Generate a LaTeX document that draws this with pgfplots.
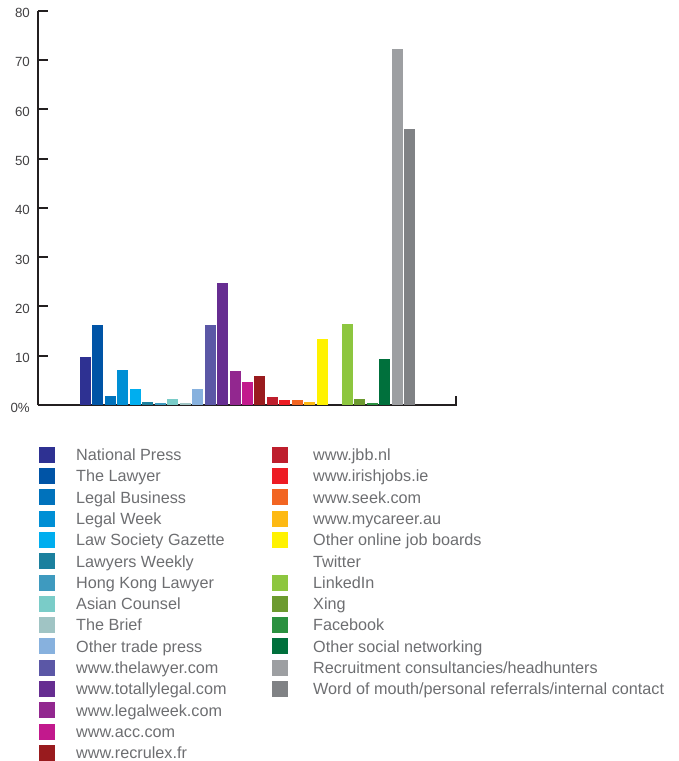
\documentclass[border=0pt]{standalone}
\usepackage{pgfplots}
\pgfplotsset{compat=1.18}
\usepackage{fontspec}
\setmainfont{Liberation Sans}

\definecolor{axisc}{HTML}{231F20}
\definecolor{ticktext}{HTML}{414042}
\definecolor{legtext}{HTML}{6D6E71}
% bar colours
\definecolor{c01}{HTML}{2E3192}
\definecolor{c02}{HTML}{0054A6}
\definecolor{c03}{HTML}{0072BC}
\definecolor{c04}{HTML}{008FD5}
\definecolor{c05}{HTML}{00AEEF}
\definecolor{c06}{HTML}{1B809E}
\definecolor{c07}{HTML}{3E9ABF}
\definecolor{c08}{HTML}{7ACCC8}
\definecolor{c09}{HTML}{A0C4C4}
\definecolor{c10}{HTML}{87B1DE}
\definecolor{c11}{HTML}{5B57A6}
\definecolor{c12}{HTML}{662D91}
\definecolor{c13}{HTML}{92278F}
\definecolor{c14}{HTML}{C2198D}
\definecolor{c15}{HTML}{991B1E}
\definecolor{c16}{HTML}{BE1E2D}
\definecolor{c17}{HTML}{ED1C24}
\definecolor{c18}{HTML}{F26522}
\definecolor{c19}{HTML}{FDB913}
\definecolor{c20}{HTML}{FFF200}
\definecolor{c22}{HTML}{8DC63F}
\definecolor{c23}{HTML}{6C9A2F}
\definecolor{c24}{HTML}{2A9140}
\definecolor{c25}{HTML}{00703C}
\definecolor{c26}{HTML}{9D9FA2}
\definecolor{c27}{HTML}{808285}

\pgfplotsset{
  swatch/.style={legend image code/.code={\fill[##1] (0pt,-8pt) rectangle (16pt,8pt);}},
  bstyle/.style={fill=#1, draw=none, bar shift=0pt, swatch},
}
% left legend column gets a fixed width so the right column lines up
\newcommand\colA[1]{\makebox[175pt][l]{#1}}
\newcommand\colB[1]{\hspace*{4pt}#1}

\begin{document}
\begin{tikzpicture}
\useasboundingbox (0pt,0pt) rectangle (679pt,-761pt);
\begin{axis}[
  at={(38pt,-405pt)}, anchor=south west,
  scale only axis, width=419pt, height=394.4pt,
  ybar, bar width=11pt,
  xmin=-2.81, xmax=30.81, ymin=0, ymax=80,
  axis x line=bottom, axis y line=left,
  axis line style={-, line width=2pt, color=axisc},
  xtick=\empty,
  ytick={0,10,...,80},
  yticklabels={0\%,10,20,30,40,50,60,70,80},
  tick align=inside,
  major tick length=10pt,
  ytick style={line width=2pt, color=axisc},
  /pgf/number format/assume math mode=true,
  yticklabel style={font=\fontsize{13.3}{15}\selectfont, color=ticktext,
    inner sep=0pt, xshift=-8pt, yshift=-2.5pt},
  clip=false,
  % transposed: 15 rows, filled column by column
  legend columns=15, transpose legend,
  legend cell align=left,
  legend style={at={(axis cs:-2.73,-8.42)}, anchor=north west,
    draw=none, fill=none, inner sep=0pt,
    column sep=21pt, row sep=5.3pt,
    font=\fontsize{16.2}{19}\selectfont, text=legtext,
    nodes={inner sep=0pt, text height=11.6pt, text depth=0pt}},
]
\addplot[bstyle=c01] coordinates {(1,9.7)};   \addlegendentry{\colA{National Press}}
\addplot[bstyle=c02] coordinates {(2,16.2)};  \addlegendentry{\colA{The Lawyer}}
\addplot[bstyle=c03] coordinates {(3,1.8)};   \addlegendentry{\colA{Legal Business}}
\addplot[bstyle=c04] coordinates {(4,7.1)};   \addlegendentry{\colA{Legal Week}}
\addplot[bstyle=c05] coordinates {(5,3.2)};   \addlegendentry{\colA{Law Society Gazette}}
\addplot[bstyle=c06] coordinates {(6,0.6)};   \addlegendentry{\colA{Lawyers Weekly}}
\addplot[bstyle=c07] coordinates {(7,0.4)};   \addlegendentry{\colA{Hong Kong Lawyer}}
\addplot[bstyle=c08] coordinates {(8,1.2)};   \addlegendentry{\colA{Asian Counsel}}
\addplot[bstyle=c09] coordinates {(9,0.4)};   \addlegendentry{\colA{The Brief}}
\addplot[bstyle=c10] coordinates {(10,3.2)};  \addlegendentry{\colA{Other trade press}}
\addplot[bstyle=c11] coordinates {(11,16.2)}; \addlegendentry{\colA{www.thelawyer.com}}
\addplot[bstyle=c12] coordinates {(12,24.7)}; \addlegendentry{\colA{www.totallylegal.com}}
\addplot[bstyle=c13] coordinates {(13,7.0)};  \addlegendentry{\colA{www.legalweek.com}}
\addplot[bstyle=c14] coordinates {(14,4.7)};  \addlegendentry{\colA{www.acc.com}}
\addplot[bstyle=c15] coordinates {(15,5.9)};  \addlegendentry{\colA{www.recrulex.fr}}
\addplot[bstyle=c16] coordinates {(16,1.6)};  \addlegendentry{\colB{www.jbb.nl}}
\addplot[bstyle=c17] coordinates {(17,1.0)};  \addlegendentry{\colB{www.irishjobs.ie}}
\addplot[bstyle=c18] coordinates {(18,1.0)};  \addlegendentry{\colB{www.seek.com}}
\addplot[bstyle=c19] coordinates {(19,0.6)};  \addlegendentry{\colB{www.mycareer.au}}
\addplot[bstyle=c20] coordinates {(20,13.4)}; \addlegendentry{\colB{Other online job boards}}
% Twitter: no bar, no swatch
\addlegendimage{empty legend}                 \addlegendentry{\colB{Twitter}}
\addplot[bstyle=c22] coordinates {(22,16.4)}; \addlegendentry{\colB{LinkedIn}}
\addplot[bstyle=c23] coordinates {(23,1.2)};  \addlegendentry{\colB{Xing}}
\addplot[bstyle=c24] coordinates {(24,0.4)};  \addlegendentry{\colB{Facebook}}
\addplot[bstyle=c25] coordinates {(25,9.3)};  \addlegendentry{\colB{Other social networking}}
\addplot[bstyle=c26] coordinates {(26,72.2)}; \addlegendentry{\colB{Recruitment consultancies/headhunters}}
\addplot[bstyle=c27] coordinates {(27,56.0)}; \addlegendentry{\colB{Word of mouth/personal referrals/internal contact}}
\addlegendimage{empty legend}\addlegendentry{}
\addlegendimage{empty legend}\addlegendentry{}
\addlegendimage{empty legend}\addlegendentry{}
% closing stub at the right end of the baseline
\draw[axisc, line width=2pt] ([xshift=-1pt]axis cs:30.81,0) -- ([xshift=-1pt]axis cs:30.81,1.85);
\end{axis}
\end{tikzpicture}
\end{document}
